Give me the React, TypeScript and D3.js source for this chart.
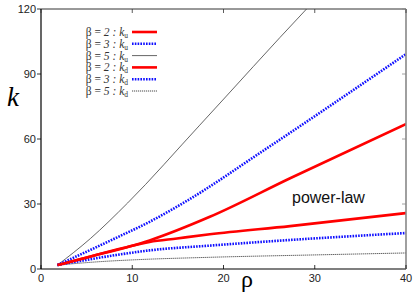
import React from "react";
import * as d3 from "d3";

const xTicks = [0, 10, 20, 30, 40];
const yTicks = [0, 30, 60, 90, 120];

const kuB2Rho = [1.8, 4.6, 11.9, 18.5, 27.3, 40];
const kuB2K = [1.8, 4.9, 13.2, 24.1, 41.9, 66.9];
const kuB3Rho = [1.8, 8.3, 12, 16, 24.5, 40];
const kuB3K = [1.8, 14.5, 22.0, 31.5, 55.0, 99.2];
const kuB5Rho = [1.8, 5.4, 9.5, 17.4, 29.1, 30];
const kuB5K = [1.8, 14.0, 30.5, 66.4, 120, 124];
const kdB2Rho = [1.8, 4.6, 9, 11.9, 14.9, 18.5, 27.3, 40];
const kdB2K = [1.8, 4.9, 9.7, 12.5, 14.1, 16.0, 19.8, 25.8];
const kdB3Rho = [1.8, 8.3, 11.9, 18.5, 27.3, 40];
const kdB3K = [1.8, 6.5, 8.6, 10.8, 13.4, 16.6];
const kdB5Rho = [1.8, 6.5, 10, 18.5, 30, 40];
const kdB5K = [1.8, 3.4, 4.2, 5.4, 6.5, 7.4];

const legendBetas = ["2", "3", "5", "2", "3", "5"];
const legendSubs = ["u", "u", "u", "d", "d", "d"];

const W = 420, H = 294;
const m = { left: 41, right: 406, top: 9, bottom: 269 };

type Style = { stroke: string; width: number; dash?: string };
const styles: Style[] = [
  { stroke: "#ff0000", width: 2.6 },
  { stroke: "#1010ff", width: 2.6, dash: "1.6,1.2" },
  { stroke: "#555555", width: 0.9 },
  { stroke: "#ff0000", width: 2.6 },
  { stroke: "#1010ff", width: 2.6, dash: "1.6,1.2" },
  { stroke: "#333333", width: 0.9, dash: "1.2,0.8" },
];

export default function App() {
  const x = d3.scaleLinear().domain([0, 40]).range([m.left, m.right]);
  const y = d3.scaleLinear().domain([0, 120]).range([m.bottom, m.top]);
  const series: [number[], number[]][] = [
    [kuB2Rho, kuB2K],
    [kuB3Rho, kuB3K],
    [kuB5Rho, kuB5K],
    [kdB2Rho, kdB2K],
    [kdB3Rho, kdB3K],
    [kdB5Rho, kdB5K],
  ];
  const line = d3
    .line<[number, number]>()
    .x((d) => x(d[0]))
    .y((d) => y(d[1]))
    .curve(d3.curveMonotoneX);

  const legX1 = 132, legX2 = 157, legTextX = 128;
  const legY0 = 32, legDy = 11.8;

  return (
    <svg width={W} height={H} style={{ position: "absolute", left: 0, top: 0, background: "#fff" }}>
      <defs>
        <clipPath id="plot">
          <rect x={m.left} y={m.top} width={m.right - m.left} height={m.bottom - m.top} />
        </clipPath>
      </defs>
      <g clipPath="url(#plot)">
        {[5, 4, 3, 2, 1, 0].map((i) => {
          const [rs, ks] = series[i];
          const pts = rs.map((r, j) => [r, ks[j]] as [number, number]);
          const s = styles[i];
          return (
            <path
              key={i}
              d={line(pts) || ""}
              fill="none"
              stroke={s.stroke}
              strokeWidth={s.width}
              strokeDasharray={s.dash}
            />
          );
        })}
      </g>
      <line x1={m.left} x2={m.right} y1={m.top} y2={m.top} stroke="#333" strokeWidth={1} />
      <line x1={m.right} x2={m.right} y1={m.top} y2={m.bottom} stroke="#888" strokeWidth={1.6} />
      <line x1={m.left} x2={m.right} y1={m.bottom} y2={m.bottom} stroke="#000" strokeWidth={1.2} />
      <line x1={m.left} x2={m.left} y1={m.top} y2={m.bottom} stroke="#000" strokeWidth={1.2} />
      {xTicks.map((t) => (
        <g key={"x" + t}>
          <line x1={x(t)} x2={x(t)} y1={m.bottom} y2={m.bottom - 4} stroke="#000" strokeWidth={0.8} />
          <line x1={x(t)} x2={x(t)} y1={m.top} y2={m.top + 4} stroke="#333" strokeWidth={0.8} />
          <text
            x={x(t)}
            y={282}
            textAnchor="middle"
            fontFamily="Liberation Sans, Arial, sans-serif"
            fontSize={11}
            fill="#222"
          >
            {t}
          </text>
        </g>
      ))}
      {yTicks.map((t) => (
        <g key={"y" + t}>
          <line x1={m.left - 4} x2={m.left} y1={y(t)} y2={y(t)} stroke="#000" strokeWidth={0.8} />
          <line x1={m.right} x2={m.right - 4} y1={y(t)} y2={y(t)} stroke="#888" strokeWidth={0.8} />
          <text
            x={36}
            y={y(t) + 4}
            textAnchor="end"
            fontFamily="Liberation Sans, Arial, sans-serif"
            fontSize={11}
            fill="#222"
          >
            {t}
          </text>
        </g>
      ))}
      <text x={13} y={106} textAnchor="middle" fontFamily="Liberation Serif, Times New Roman, serif" fontStyle="italic" fontSize={27} fill="#000">
        k
      </text>
      <text x={247} y={287} textAnchor="middle" fontFamily="Liberation Serif, Times New Roman, serif" fontSize={24} fill="#000">
        ρ
      </text>
      <text x={292} y={203} fontFamily="Liberation Sans, Arial, sans-serif" fontSize={16} fill="#111">
        power-law
      </text>
      {legendBetas.map((b, i) => {
        const ly = legY0 + i * legDy;
        const s = styles[i];
        return (
          <g key={"leg" + i}>
            <text
              x={legTextX}
              y={ly + 4}
              textAnchor="end"
              fontFamily="Liberation Serif, Times New Roman, serif"
              fontSize={11.5}
              fill="#333"
            >
              <tspan>β = </tspan>
              <tspan fontStyle="italic">{b} : k</tspan>
              <tspan fontSize={7.5} dy={2}>{legendSubs[i]}</tspan>
            </text>
            <line
              x1={legX1}
              x2={legX2}
              y1={ly}
              y2={ly}
              stroke={s.stroke}
              strokeWidth={s.width}
              strokeDasharray={s.dash}
            />
          </g>
        );
      })}
    </svg>
  );
}
